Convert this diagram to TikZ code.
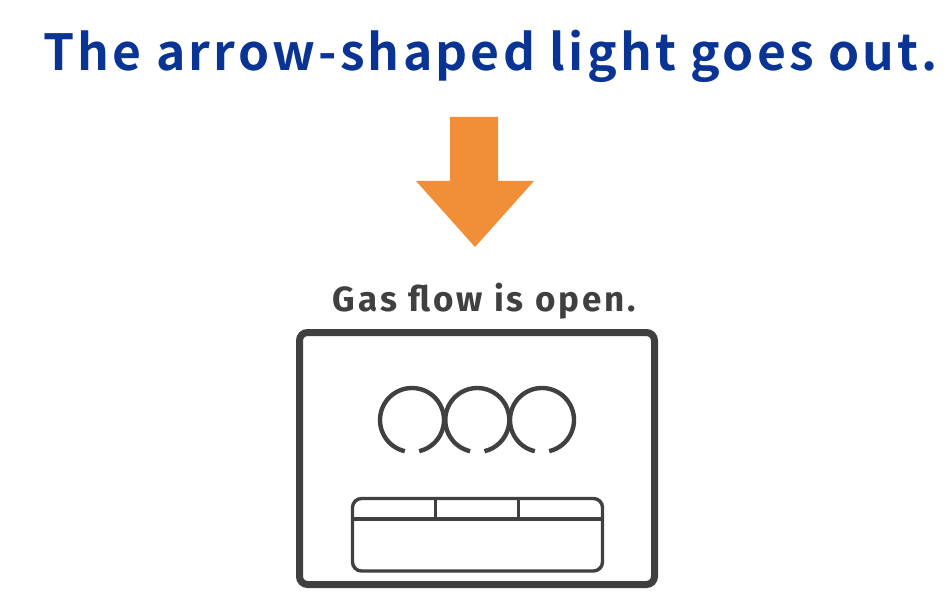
\documentclass[tikz,border=0pt]{standalone}
\usepackage{fontspec}
\setmainfont{Noto Sans}
\newfontfamily\titlefont[LetterSpace=6.5,BoldFont={Noto Sans CJK JP Bold}]{Noto Sans CJK JP}
\newfontfamily\gasfont[LetterSpace=8.5]{Fira Sans}
\definecolor{titleblue}{HTML}{0A3494}
\definecolor{arroworange}{HTML}{F18F38}
\definecolor{darkgrey}{HTML}{404040}
\tikzset{
 burner/.style={draw=darkgrey,line width=4.4pt},
 thinbox/.style={draw=darkgrey,line width=3.4pt}
}
\begin{document}
\begin{tikzpicture}[x=1pt,y=-1pt]
\useasboundingbox (0,0) rectangle (948,607);
\node[text=titleblue,inner sep=0pt] (title) at (490.5,56.5) {\fontsize{49.8}{54}\titlefont\bfseries The arrow-shaped light goes out.};
\fill[arroworange] (450,117) -- (498,117) -- (498,181) -- (534,181) -- (475,247) -- (416,181) -- (450,181) -- cycle;
\node[text=darkgrey,inner sep=0pt] (gas) at (484.5,301) {\fontsize{35}{40}\gasfont\bfseries Gas flow is open.};
\draw[draw=darkgrey,line width=7pt,rounded corners=8pt] (299.5,332.5) rectangle (654.5,584.5);
\foreach \c in {412,477.3,542}{
 \draw[burner] (\c,420) ++(103:32) arc[start angle=103,end angle=437,radius=32];
}
\draw[thinbox,rounded corners=9pt] (352.5,498.5) rectangle (602.5,571);
\draw[thinbox] (352.5,519) -- (602.5,519) (435.5,498.5) -- (435.5,519) (518.5,498.5) -- (518.5,519);
\end{tikzpicture}
\end{document}
